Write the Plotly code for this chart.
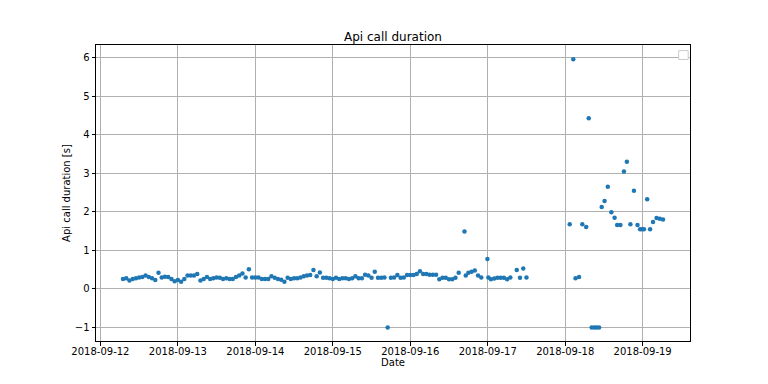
import plotly.graph_objects as go

# ---- data ----
timestamps = (
    ["2018-09-12 %02d:00" % h for h in [7, 8, 9, 10, 11, 12, 13, 14, 15, 16, 17, 18, 19, 20, 21, 22, 23]]
    + ["2018-09-13 %02d:00" % h for h in [0, 1, 2, 3, 4, 5, 6, 7, 8, 9, 10, 11, 12, 13, 14, 15, 16, 17, 18, 19, 20, 21, 22, 23]]
    + ["2018-09-14 %02d:00" % h for h in [0, 1, 2, 3, 4, 5, 6, 7, 8, 9, 10, 11, 12, 13, 14, 15, 16, 17, 18, 19, 20, 21, 22, 23]]
    + ["2018-09-15 %02d:00" % h for h in [0, 1, 2, 3, 4, 5, 6, 7, 8, 9, 10, 11, 12, 13, 14, 15, 16, 17, 18, 19, 20, 21, 22, 23]]
    + ["2018-09-16 00:00", "2018-09-16 01:00", "2018-09-16 02:00", "2018-09-16 03:00",
       "2018-09-16 04:00", "2018-09-16 05:00", "2018-09-16 06:00", "2018-09-16 07:00",
       "2018-09-16 08:00", "2018-09-16 09:00", "2018-09-16 10:00", "2018-09-16 11:00",
       "2018-09-16 12:00", "2018-09-16 13:00", "2018-09-16 14:00", "2018-09-16 15:00",
       "2018-09-16 16:48", "2018-09-16 17:12", "2018-09-16 18:00", "2018-09-16 19:00",
       "2018-09-16 20:00", "2018-09-16 21:00", "2018-09-16 22:00", "2018-09-16 23:54"]
    + ["2018-09-17 00:12", "2018-09-17 01:00", "2018-09-17 02:00", "2018-09-17 03:00",
       "2018-09-17 04:00", "2018-09-17 05:00", "2018-09-17 06:00", "2018-09-17 07:00",
       "2018-09-17 09:00", "2018-09-17 10:00", "2018-09-17 11:00", "2018-09-17 12:00"]
    + ["2018-09-18 01:24", "2018-09-18 02:30", "2018-09-18 03:12", "2018-09-18 04:18",
       "2018-09-18 05:18", "2018-09-18 06:30", "2018-09-18 07:18", "2018-09-18 08:12",
       "2018-09-18 09:00", "2018-09-18 09:42", "2018-09-18 10:30", "2018-09-18 11:18",
       "2018-09-18 12:12", "2018-09-18 13:12", "2018-09-18 14:18", "2018-09-18 15:18",
       "2018-09-18 16:06", "2018-09-18 17:06", "2018-09-18 18:12", "2018-09-18 19:06",
       "2018-09-18 20:12", "2018-09-18 21:18", "2018-09-18 22:24", "2018-09-18 23:12",
       "2018-09-18 23:48", "2018-09-19 00:24", "2018-09-19 01:24", "2018-09-19 02:18",
       "2018-09-19 03:12", "2018-09-19 04:18", "2018-09-19 05:18", "2018-09-19 06:18"]
)

durations = (
    [0.26, 0.28, 0.22, 0.26, 0.28, 0.30, 0.31, 0.35, 0.31, 0.28, 0.23, 0.42, 0.30, 0.32, 0.31, 0.26, 0.20]
    + [0.23, 0.19, 0.26, 0.35, 0.35, 0.35, 0.39, 0.22, 0.26, 0.31, 0.26, 0.28,
       0.30, 0.29, 0.26, 0.28, 0.26, 0.26, 0.31, 0.35, 0.40, 0.30, 0.51, 0.30]
    + [0.30, 0.30, 0.26, 0.26, 0.26, 0.33, 0.29, 0.26, 0.24, 0.19, 0.29, 0.26,
       0.28, 0.28, 0.30, 0.33, 0.35, 0.36, 0.49, 0.33, 0.43, 0.29, 0.29, 0.28]
    + [0.26, 0.29, 0.26, 0.28, 0.28, 0.26, 0.28, 0.33, 0.28, 0.28, 0.37, 0.35,
       0.29, 0.45, 0.29, 0.29, 0.30, -1.00, 0.29, 0.30, 0.36, 0.29, 0.30, 0.36]
    + [0.36, 0.36, 0.39, 0.46, 0.39, 0.39, 0.37, 0.37, 0.37, 0.25, 0.29, 0.29,
       0.25, 0.25, 0.29, 0.42, 1.49, 0.35, 0.42, 0.45, 0.48, 0.35, 0.30, 0.78]
    + [0.30, 0.25, 0.27, 0.29, 0.29, 0.29, 0.25, 0.30, 0.49, 0.29, 0.53, 0.30]
    + [1.68, 5.96, 0.28, 0.31, 1.68, 1.61, 4.43, -1.00, -1.00, -1.00, -1.00, 2.13,
       2.28, 2.65, 1.99, 1.85, 1.66, 1.66, 3.05, 3.30, 1.68, 2.55, 1.66, 1.55,
       1.55, 1.55, 2.33, 1.55, 1.74, 1.84, 1.82, 1.80]
)

x_tick_values = ["2018-09-12", "2018-09-13", "2018-09-14", "2018-09-15",
                 "2018-09-16", "2018-09-17", "2018-09-18", "2018-09-19"]
y_tick_values = [-1, 0, 1, 2, 3, 4, 5, 6]

title_text = "Api call duration"
x_label = "Date"
y_label = "Api call duration [s]"

# ---- figure ----
font = dict(family="DejaVu Sans", size=10, color="black")

fig = go.Figure(
    go.Scatter(
        x=timestamps, y=durations, mode="markers",
        marker=dict(color="#1f77b4", size=4.5, line=dict(width=0)),
        showlegend=False,
    )
)

axis_common = dict(
    showline=True, linecolor="black", linewidth=1, mirror=True,
    ticks="outside", ticklen=3.5, tickwidth=0.8, tickcolor="black",
    showgrid=True, gridcolor="#b0b0b0", gridwidth=0.8,
    zeroline=False, tickfont=font,
)

fig.update_xaxes(
    type="date", range=["2018-09-11 22:38", "2018-09-19 14:40"],
    tickvals=x_tick_values, ticktext=x_tick_values,
    ticklabelstandoff=-3,
    title=dict(text=x_label, font=font, standoff=1),
    **axis_common,
)
fig.update_yaxes(
    range=[-1.35, 6.33], tickvals=y_tick_values,
    title=dict(text=y_label, font=font, standoff=2),
    **axis_common,
)

# empty legend box (as in reference)
fig.add_shape(type="rect", xref="paper", yref="paper",
              x0=0.981, x1=0.997, y0=0.951, y1=0.981,
              line=dict(color="#cccccc", width=1), fillcolor="white")

# page body adds an 8px offset, so the figure is 760x376
fig.update_layout(
    width=760, height=376,
    margin=dict(l=88, r=78, t=37, b=43),
    paper_bgcolor="white", plot_bgcolor="white",
    title=dict(text=title_text, x=0.5, xanchor="center", xref="paper",
               y=1 - 29 / 376, yanchor="middle",
               font=dict(family="DejaVu Sans", size=12, color="black")),
    font=font,
)

fig.write_html("out.html")
